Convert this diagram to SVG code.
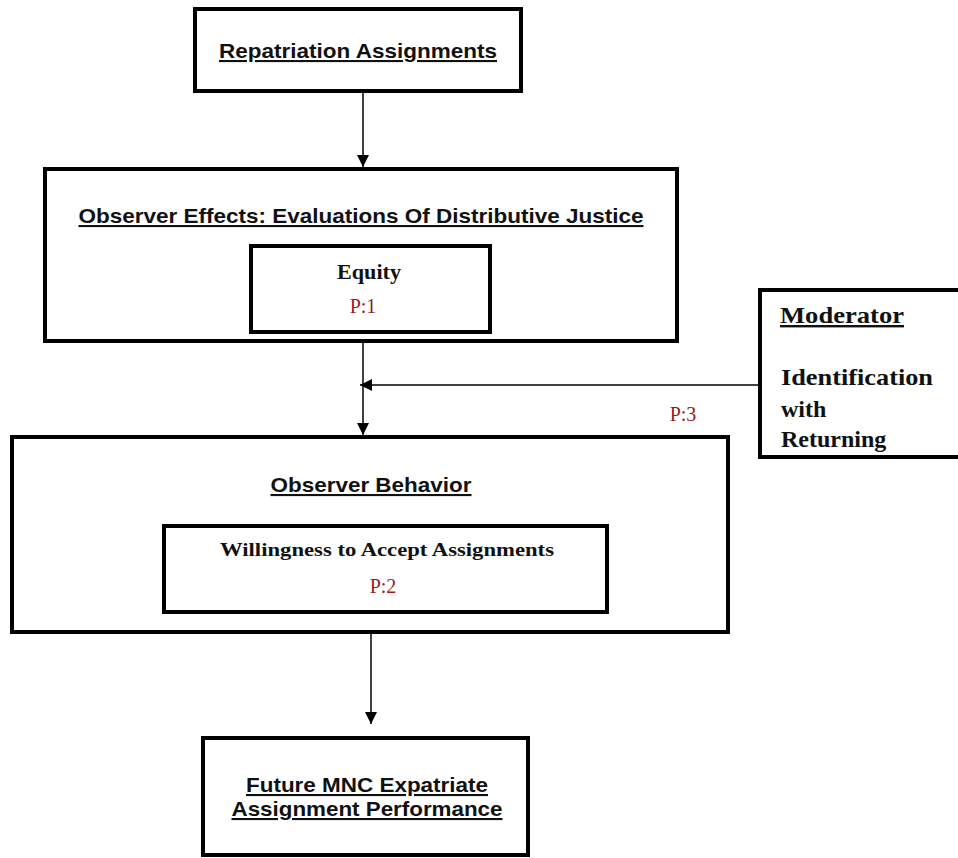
<svg xmlns="http://www.w3.org/2000/svg" width="958" height="858" viewBox="0 0 958 858">
  <style>
    .box { fill: #ffffff; stroke: #000000; stroke-width: 4; }
    .link { stroke: #000000; stroke-width: 1.5; fill: none; }
    .title { font-family: "Liberation Sans", Arial, sans-serif; font-weight: bold; font-size: 21px; fill: #111111; text-decoration: underline; }
    .serifb { font-family: "Liberation Serif", "Times New Roman", serif; font-weight: bold; fill: #111111; }
    .prop { font-family: "Liberation Serif", "Times New Roman", serif; font-size: 20px; fill: #991a1a; }
  </style>
  <defs>
    <marker id="head" markerUnits="userSpaceOnUse" markerWidth="12" markerHeight="12" refX="12" refY="6" orient="auto" viewBox="0 0 12 12">
      <path d="M0,0 L12,6 L0,12 Z" fill="#000000"/>
    </marker>
  </defs>
  <rect width="958" height="858" fill="#ffffff"/>

  <!-- connectors -->
  <g id="connectors">
    <line class="link" x1="363" y1="91" x2="363" y2="167" marker-end="url(#head)"/>
    <line class="link" x1="363" y1="341" x2="363" y2="435" marker-end="url(#head)"/>
    <line class="link" x1="758" y1="385" x2="360" y2="385" marker-end="url(#head)"/>
    <line class="link" x1="371" y1="634" x2="371" y2="724" marker-end="url(#head)"/>
  </g>

  <g id="repatriation">
    <rect class="box" x="195" y="9" width="326" height="82"/>
    <text class="title" x="358" y="58" text-anchor="middle" textLength="278" lengthAdjust="spacingAndGlyphs">Repatriation Assignments</text>
  </g>

  <g id="observer-effects">
    <rect class="box" x="45" y="169" width="632" height="172"/>
    <text class="title" x="361" y="223" text-anchor="middle" textLength="565" lengthAdjust="spacingAndGlyphs">Observer Effects: Evaluations Of Distributive Justice</text>
  </g>

  <g id="equity">
    <rect class="box" x="251" y="246" width="239" height="86"/>
    <text class="serifb" x="369" y="279" font-size="20" text-anchor="middle" textLength="64" lengthAdjust="spacingAndGlyphs">Equity</text>
    <text class="prop" x="363" y="313" text-anchor="middle">P:1</text>
  </g>

  <g id="moderator">
    <rect class="box" x="760" y="290" width="220" height="167"/>
    <text class="serifb" font-size="24" x="780" y="323" text-decoration="underline" textLength="124" lengthAdjust="spacingAndGlyphs">Moderator</text>
    <text class="serifb" font-size="24" x="781" y="385" textLength="152" lengthAdjust="spacingAndGlyphs">Identification</text>
    <text class="serifb" font-size="24" x="781" y="417">with</text>
    <text class="serifb" font-size="24" x="781" y="447">Returning</text>
  </g>

  <text id="p3" class="prop" x="683" y="421" text-anchor="middle">P:3</text>

  <g id="observer-behavior">
    <rect class="box" x="12" y="437" width="716" height="195"/>
    <text class="title" x="371" y="492" text-anchor="middle" textLength="201" lengthAdjust="spacingAndGlyphs">Observer Behavior</text>
  </g>

  <g id="willingness">
    <rect class="box" x="164" y="526" width="443" height="86"/>
    <text class="serifb" x="387" y="556" font-size="19" text-anchor="middle" textLength="334" lengthAdjust="spacingAndGlyphs">Willingness to Accept Assignments</text>
    <text class="prop" x="383" y="593" text-anchor="middle">P:2</text>
  </g>

  <g id="future-performance">
    <rect class="box" x="203" y="738" width="325" height="117"/>
    <text class="title" x="367" y="792" text-anchor="middle" textLength="242" lengthAdjust="spacingAndGlyphs">Future MNC Expatriate</text>
    <text class="title" x="367" y="816" text-anchor="middle" textLength="271" lengthAdjust="spacingAndGlyphs">Assignment Performance</text>
  </g>
</svg>
